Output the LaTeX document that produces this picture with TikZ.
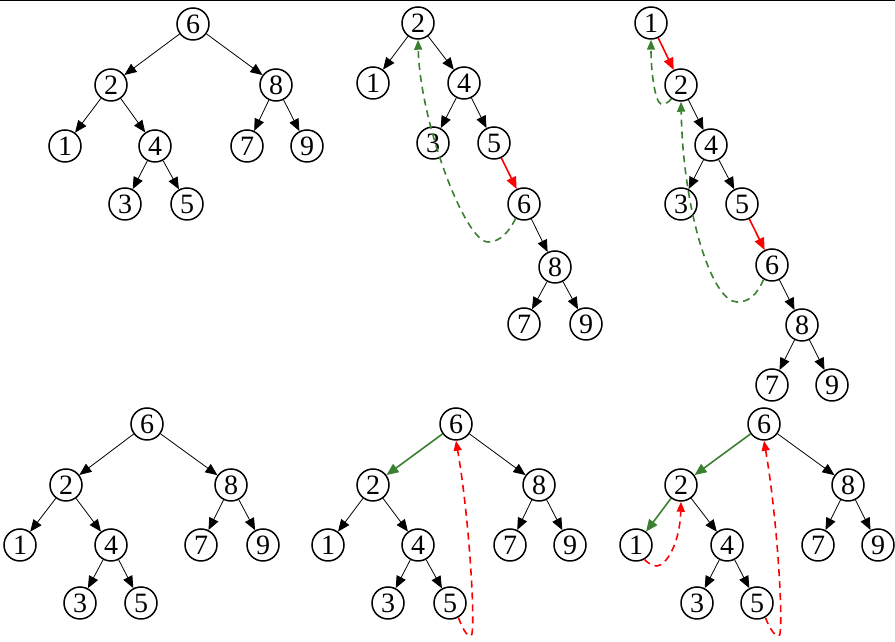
\documentclass[tikz,border=0pt]{standalone}
\usepackage{fontspec}
\setmainfont{Liberation Serif}
\usetikzlibrary{arrows.meta}
\definecolor{myred}{RGB}{255,0,0}
\definecolor{mygreen}{RGB}{58,128,48}
\begin{document}
\begin{tikzpicture}[x=1pt,y=1pt,
 vtx/.style={circle,draw,line width=1.5pt,minimum size=32pt,inner sep=0pt,font=\fontsize{28}{28}\selectfont},
 edge/.style={line width=0.8pt,-{Triangle[length=12pt,width=10pt]}},
 redge/.style={line width=1.6pt,draw=myred,-{Triangle[length=12pt,width=10pt]}},
 gedge/.style={line width=1.6pt,draw=mygreen,-{Triangle[length=12pt,width=10pt]}},
 gdash/.style={line width=1.6pt,draw=mygreen,dash pattern=on 7pt off 5pt,-{Triangle[length=10pt,width=8pt]}},
 rdash/.style={line width=1.6pt,draw=myred,dash pattern=on 7pt off 5pt,-{Triangle[length=10pt,width=8pt]}}]
\useasboundingbox (0,0) rectangle (895,642);
\draw[line width=1.5pt] (0,641.3) -- (895,641.3);
% Panel A (top left)
\node[vtx] (a6) at (193,618) {6};
\node[vtx] (a2) at (111,557) {2};
\node[vtx] (a8) at (276,557) {8};
\node[vtx] (a1) at (65,496) {1};
\node[vtx] (a4) at (155,496) {4};
\node[vtx] (a7) at (247,496) {7};
\node[vtx] (a9) at (307,496) {9};
\node[vtx] (a3) at (125,438) {3};
\node[vtx] (a5) at (187,438) {5};
\draw[edge] (a6) -- (a2);
\draw[edge] (a6) -- (a8);
\draw[edge] (a2) -- (a1);
\draw[edge] (a2) -- (a4);
\draw[edge] (a4) -- (a3);
\draw[edge] (a4) -- (a5);
\draw[edge] (a8) -- (a7);
\draw[edge] (a8) -- (a9);
% Panel B (top middle)
\node[vtx] (b2) at (418,619) {2};
\node[vtx] (b1) at (373,559) {1};
\node[vtx] (b4) at (464,559) {4};
\node[vtx] (b3) at (433,499) {3};
\node[vtx] (b5) at (494,499) {5};
\node[vtx] (b6) at (524,438) {6};
\node[vtx] (b8) at (555,375) {8};
\node[vtx] (b7) at (524,318) {7};
\node[vtx] (b9) at (586,318) {9};
\draw[edge] (b2) -- (b1);
\draw[edge] (b2) -- (b4);
\draw[edge] (b4) -- (b3);
\draw[edge] (b4) -- (b5);
\draw[redge] (b5) -- (b6);
\draw[edge] (b6) -- (b8);
\draw[edge] (b8) -- (b7);
\draw[edge] (b8) -- (b9);
\coordinate (bb) at (488,400);
\draw[gdash] (b6.240) .. controls (509,410) and (500,400) .. (bb) .. controls (465,400) and (420,520) .. (b2.south);
% Panel C (top right)
\node[vtx] (c1) at (651,619) {1};
\node[vtx] (c2) at (681,557) {2};
\node[vtx] (c4) at (711,497) {4};
\node[vtx] (c3) at (681,438) {3};
\node[vtx] (c5) at (742,438) {5};
\node[vtx] (c6) at (772,377) {6};
\node[vtx] (c8) at (802,317) {8};
\node[vtx] (c7) at (772,257) {7};
\node[vtx] (c9) at (832,257) {9};
\draw[redge] (c1) -- (c2);
\draw[edge] (c2) -- (c4);
\draw[edge] (c4) -- (c3);
\draw[edge] (c4) -- (c5);
\draw[redge] (c5) -- (c6);
\draw[edge] (c6) -- (c8);
\draw[edge] (c8) -- (c7);
\draw[edge] (c8) -- (c9);
\coordinate (cb1) at (661,538);
\coordinate (cb2) at (737,340);
\draw[gdash] (c2.235) .. controls (669,540) and (666,538) .. (cb1) .. controls (655,540) and (651,570) .. (c1.south);
\draw[gdash] (c6.240) .. controls (757,348) and (750,340) .. (cb2) .. controls (712,340) and (683,430) .. (c2.south);
% Panel D (bottom left)
\node[vtx] (d6) at (147,218) {6};
\node[vtx] (d2) at (66,157) {2};
\node[vtx] (d8) at (231,157) {8};
\node[vtx] (d1) at (20,97) {1};
\node[vtx] (d4) at (111,97) {4};
\node[vtx] (d7) at (201,97) {7};
\node[vtx] (d9) at (263,97) {9};
\node[vtx] (d3) at (80,39) {3};
\node[vtx] (d5) at (141,39) {5};
\draw[edge] (d6) -- (d2);
\draw[edge] (d6) -- (d8);
\draw[edge] (d2) -- (d1);
\draw[edge] (d2) -- (d4);
\draw[edge] (d4) -- (d3);
\draw[edge] (d4) -- (d5);
\draw[edge] (d8) -- (d7);
\draw[edge] (d8) -- (d9);
% Panel E (bottom middle)
\node[vtx] (e6) at (456,218) {6};
\node[vtx] (e2) at (373,157) {2};
\node[vtx] (e8) at (539,157) {8};
\node[vtx] (e1) at (328,97) {1};
\node[vtx] (e4) at (418,97) {4};
\node[vtx] (e7) at (510,97) {7};
\node[vtx] (e9) at (570,97) {9};
\node[vtx] (e3) at (388,39) {3};
\node[vtx] (e5) at (450,39) {5};
\draw[gedge] (e6) -- (e2);
\draw[edge] (e6) -- (e8);
\draw[edge] (e2) -- (e1);
\draw[edge] (e2) -- (e4);
\draw[edge] (e4) -- (e3);
\draw[edge] (e4) -- (e5);
\draw[edge] (e8) -- (e7);
\draw[edge] (e8) -- (e9);
\coordinate (eb) at (471,6);
\draw[rdash] (e5.-60) .. controls (462,15) and (466,6) .. (eb) .. controls (476,8) and (470,120) .. (e6.south);
% Panel F (bottom right)
\node[vtx] (f6) at (764,218) {6};
\node[vtx] (f2) at (681,157) {2};
\node[vtx] (f8) at (848,157) {8};
\node[vtx] (f1) at (636,97) {1};
\node[vtx] (f4) at (727,97) {4};
\node[vtx] (f7) at (818,97) {7};
\node[vtx] (f9) at (878,97) {9};
\node[vtx] (f3) at (697,39) {3};
\node[vtx] (f5) at (757,39) {5};
\draw[gedge] (f6) -- (f2);
\draw[edge] (f6) -- (f8);
\draw[gedge] (f2) -- (f1);
\draw[edge] (f2) -- (f4);
\draw[edge] (f4) -- (f3);
\draw[edge] (f4) -- (f5);
\draw[edge] (f8) -- (f7);
\draw[edge] (f8) -- (f9);
\coordinate (fb1) at (657,76);
\coordinate (fb2) at (779,6);
\draw[rdash] (f1.-60) .. controls (648,79) and (652,76) .. (fb1) .. controls (667,77) and (680,100) .. (f2.south);
\draw[rdash] (f5.-60) .. controls (769,15) and (774,6) .. (fb2) .. controls (784,8) and (778,120) .. (f6.south);
\end{tikzpicture}
\end{document}
